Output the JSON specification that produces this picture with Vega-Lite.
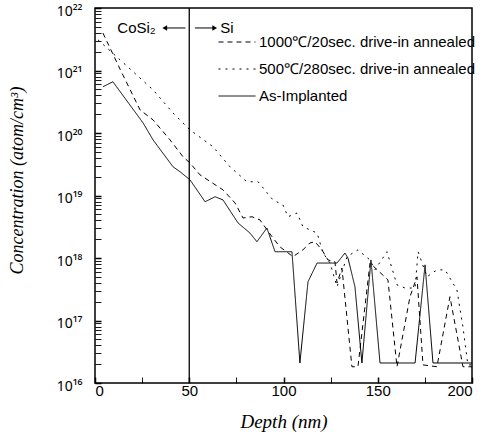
{
  "$schema": "https://vega.github.io/schema/vega-lite/v6.json",
  "width": 377,
  "height": 375,
  "autosize": {"type": "none"},
  "padding": {"left": 95, "top": 8, "right": 14, "bottom": 60},
  "background": "white",
  "config": {
    "view": {"stroke": "black", "strokeWidth": 1.5, "fill": "transparent"},
    "axis": {"domain": false, "ticks": true, "tickColor": "black", "labelColor": "black", "titleColor": "black", "grid": false, "zindex": 2},
    "axisX": {"ticks": true, "tickColor": "black"},
    "axisY": {"ticks": true, "tickColor": "black"},
    "axisQuantitative": {"ticks": true, "tickColor": "black"}
  },
  "datasets": {
    "profiles": [
      {"s": "500℃/280sec. drive-in annealed", "d": 1.6, "c": 3.09e21},
      {"s": "500℃/280sec. drive-in annealed", "d": 13.3, "c": 1.48e21},
      {"s": "500℃/280sec. drive-in annealed", "d": 30.8, "c": 4.9e20},
      {"s": "500℃/280sec. drive-in annealed", "d": 41.4, "c": 2.09e20},
      {"s": "500℃/280sec. drive-in annealed", "d": 50.4, "c": 1.12e20},
      {"s": "500℃/280sec. drive-in annealed", "d": 62.6, "c": 6.03e19},
      {"s": "500℃/280sec. drive-in annealed", "d": 71.6, "c": 2.88e19},
      {"s": "500℃/280sec. drive-in annealed", "d": 80.6, "c": 1.66e19},
      {"s": "500℃/280sec. drive-in annealed", "d": 86.5, "c": 1.66e19},
      {"s": "500℃/280sec. drive-in annealed", "d": 94.4, "c": 8.5e18},
      {"s": "500℃/280sec. drive-in annealed", "d": 99.7, "c": 7.08e18},
      {"s": "500℃/280sec. drive-in annealed", "d": 102.4, "c": 4.57e18},
      {"s": "500℃/280sec. drive-in annealed", "d": 107.2, "c": 5.25e18},
      {"s": "500℃/280sec. drive-in annealed", "d": 110.3, "c": 3.16e18},
      {"s": "500℃/280sec. drive-in annealed", "d": 117.8, "c": 2.51e18},
      {"s": "500℃/280sec. drive-in annealed", "d": 121, "c": 1.2e18},
      {"s": "500℃/280sec. drive-in annealed", "d": 124.7, "c": 8.3e17},
      {"s": "500℃/280sec. drive-in annealed", "d": 128.4, "c": 3.47e17},
      {"s": "500℃/280sec. drive-in annealed", "d": 133.7, "c": 1.05e18},
      {"s": "500℃/280sec. drive-in annealed", "d": 139.5, "c": 1.35e18},
      {"s": "500℃/280sec. drive-in annealed", "d": 145.9, "c": 9.3e17},
      {"s": "500℃/280sec. drive-in annealed", "d": 148.5, "c": 6.46e17},
      {"s": "500℃/280sec. drive-in annealed", "d": 154.9, "c": 1.26e18},
      {"s": "500℃/280sec. drive-in annealed", "d": 160.2, "c": 3.72e17},
      {"s": "500℃/280sec. drive-in annealed", "d": 164.5, "c": 3.31e17},
      {"s": "500℃/280sec. drive-in annealed", "d": 169.8, "c": 3.31e17},
      {"s": "500℃/280sec. drive-in annealed", "d": 171.4, "c": 1.26e18},
      {"s": "500℃/280sec. drive-in annealed", "d": 176.1, "c": 5.0e17},
      {"s": "500℃/280sec. drive-in annealed", "d": 181.4, "c": 6.46e17},
      {"s": "500℃/280sec. drive-in annealed", "d": 185.7, "c": 6.46e17},
      {"s": "500℃/280sec. drive-in annealed", "d": 192, "c": 3.09e17},
      {"s": "500℃/280sec. drive-in annealed", "d": 195.2, "c": 7.9e16},
      {"s": "500℃/280sec. drive-in annealed", "d": 197.8, "c": 1.95e16},
      {"s": "500℃/280sec. drive-in annealed", "d": 200, "c": 1.95e16},
      {"s": "1000℃/20sec. drive-in annealed", "d": 4.2, "c": 3.98e21},
      {"s": "1000℃/20sec. drive-in annealed", "d": 13.3, "c": 1.05e21},
      {"s": "1000℃/20sec. drive-in annealed", "d": 23.9, "c": 2.34e20},
      {"s": "1000℃/20sec. drive-in annealed", "d": 30.8, "c": 1.62e20},
      {"s": "1000℃/20sec. drive-in annealed", "d": 39.8, "c": 7.76e19},
      {"s": "1000℃/20sec. drive-in annealed", "d": 46.7, "c": 4.17e19},
      {"s": "1000℃/20sec. drive-in annealed", "d": 50.4, "c": 3.31e19},
      {"s": "1000℃/20sec. drive-in annealed", "d": 55.7, "c": 2.14e19},
      {"s": "1000℃/20sec. drive-in annealed", "d": 67.9, "c": 1.23e19},
      {"s": "1000℃/20sec. drive-in annealed", "d": 74.3, "c": 7.59e18},
      {"s": "1000℃/20sec. drive-in annealed", "d": 78.5, "c": 4.37e18},
      {"s": "1000℃/20sec. drive-in annealed", "d": 83.3, "c": 4.57e18},
      {"s": "1000℃/20sec. drive-in annealed", "d": 87.5, "c": 4.07e18},
      {"s": "1000℃/20sec. drive-in annealed", "d": 93.9, "c": 2.19e18},
      {"s": "1000℃/20sec. drive-in annealed", "d": 98.1, "c": 1.51e18},
      {"s": "1000℃/20sec. drive-in annealed", "d": 105, "c": 1.05e18},
      {"s": "1000℃/20sec. drive-in annealed", "d": 110.3, "c": 1.35e18},
      {"s": "1000℃/20sec. drive-in annealed", "d": 114, "c": 1.74e18},
      {"s": "1000℃/20sec. drive-in annealed", "d": 116.7, "c": 1.82e18},
      {"s": "1000℃/20sec. drive-in annealed", "d": 120.4, "c": 1.35e18},
      {"s": "1000℃/20sec. drive-in annealed", "d": 123.6, "c": 9.3e17},
      {"s": "1000℃/20sec. drive-in annealed", "d": 127.3, "c": 8.7e17},
      {"s": "1000℃/20sec. drive-in annealed", "d": 128.4, "c": 3.98e17},
      {"s": "1000℃/20sec. drive-in annealed", "d": 131, "c": 6.92e17},
      {"s": "1000℃/20sec. drive-in annealed", "d": 136.3, "c": 1.82e16},
      {"s": "1000℃/20sec. drive-in annealed", "d": 139.5, "c": 1.82e16},
      {"s": "1000℃/20sec. drive-in annealed", "d": 145.9, "c": 8.3e17},
      {"s": "1000℃/20sec. drive-in annealed", "d": 155.4, "c": 4.47e17},
      {"s": "1000℃/20sec. drive-in annealed", "d": 160.2, "c": 1.82e16},
      {"s": "1000℃/20sec. drive-in annealed", "d": 167.1, "c": 2.4e17},
      {"s": "1000℃/20sec. drive-in annealed", "d": 170.8, "c": 5.0e17},
      {"s": "1000℃/20sec. drive-in annealed", "d": 174, "c": 1.95e16},
      {"s": "1000℃/20sec. drive-in annealed", "d": 181.4, "c": 1.82e16},
      {"s": "1000℃/20sec. drive-in annealed", "d": 188.3, "c": 2.4e17},
      {"s": "1000℃/20sec. drive-in annealed", "d": 195.2, "c": 1.82e16},
      {"s": "1000℃/20sec. drive-in annealed", "d": 200, "c": 1.82e16},
      {"s": "As-Implanted", "d": 4.2, "c": 5.5e20},
      {"s": "As-Implanted", "d": 9.5, "c": 6.6e20},
      {"s": "As-Implanted", "d": 25.5, "c": 1.45e20},
      {"s": "As-Implanted", "d": 30.8, "c": 7.76e19},
      {"s": "As-Implanted", "d": 41.4, "c": 2.88e19},
      {"s": "As-Implanted", "d": 45.1, "c": 2.4e19},
      {"s": "As-Implanted", "d": 50.4, "c": 1.78e19},
      {"s": "As-Implanted", "d": 58.4, "c": 7.94e18},
      {"s": "As-Implanted", "d": 63.7, "c": 9.55e18},
      {"s": "As-Implanted", "d": 67.9, "c": 8.5e18},
      {"s": "As-Implanted", "d": 75.9, "c": 3.63e18},
      {"s": "As-Implanted", "d": 82.2, "c": 2.51e18},
      {"s": "As-Implanted", "d": 85.9, "c": 1.82e18},
      {"s": "As-Implanted", "d": 91.2, "c": 3.02e18},
      {"s": "As-Implanted", "d": 95.5, "c": 1.26e18},
      {"s": "As-Implanted", "d": 104.5, "c": 1.26e18},
      {"s": "As-Implanted", "d": 108.7, "c": 2.09e16},
      {"s": "As-Implanted", "d": 113, "c": 4.17e17},
      {"s": "As-Implanted", "d": 117.8, "c": 8.3e17},
      {"s": "As-Implanted", "d": 128.4, "c": 8.3e17},
      {"s": "As-Implanted", "d": 132.6, "c": 1.2e18},
      {"s": "As-Implanted", "d": 134.2, "c": 1.0e18},
      {"s": "As-Implanted", "d": 137.9, "c": 3.47e17},
      {"s": "As-Implanted", "d": 141.6, "c": 2.09e16},
      {"s": "As-Implanted", "d": 146.4, "c": 9.3e17},
      {"s": "As-Implanted", "d": 151.2, "c": 2.09e16},
      {"s": "As-Implanted", "d": 169.8, "c": 2.09e16},
      {"s": "As-Implanted", "d": 175.1, "c": 7.76e17},
      {"s": "As-Implanted", "d": 179.3, "c": 2.09e16},
      {"s": "As-Implanted", "d": 200, "c": 2.09e16}
    ],
    "labels": [
      {"t": "CoSi₂", "d": 22, "c": 4.79e21, "a": "center"},
      {"t": "Si", "d": 70, "c": 4.79e21, "a": "left"}
    ],
    "arrows": [
      {"d1": 37, "d2": 48, "c": 4.79e21},
      {"d1": 53, "d2": 63.5, "c": 4.79e21}
    ],
    "headsLeft": [{"d": 37, "c": 4.79e21}],
    "headsRight": [{"d": 63.5, "c": 4.79e21}],
    "boundary": [{"d": 50}]
  },
  "layer": [
    {
      "data": {"name": "profiles"},
      "mark": {"type": "line", "color": "black", "strokeWidth": 1},
      "encoding": {
        "x": {
          "field": "d", "type": "quantitative",
          "scale": {"domain": [0, 200], "nice": false},
          "axis": {
            "title": "Depth (nm)",
            "titleFont": "Liberation Serif", "titleFontStyle": "italic", "titleFontWeight": "normal", "titleFontSize": 19, "titlePadding": 14,
            "values": [0, 25, 50, 75, 100, 125, 150, 175, 200],
            "labelExpr": "datum.value % 50 === 0 ? datum.label : ''",
            "labelFont": "Liberation Sans", "labelFontSize": 15, "labelPadding": 0,
            "offset": -6,
            "ticks": true, "tickColor": "black", "tickOpacity": 1,
            "tickSize": 6,
            "tickWidth": {"condition": {"test": "datum.value % 50 === 0", "value": 1.5}, "value": 0.9}
          }
        },
        "y": {
          "field": "c", "type": "quantitative",
          "scale": {"type": "log", "domain": [1e16, 1e22], "nice": false},
          "axis": {
            "title": "Concentration (atom/cm³)",
            "titleFont": "Liberation Serif", "titleFontStyle": "italic", "titleFontWeight": "normal", "titleFontSize": 18, "titlePadding": 30, "titleY": 172,
            "values": [1e16,2e16,3e16,4e16,5e16,6e16,7e16,8e16,9e16,1e17,2e17,3e17,4e17,5e17,6e17,7e17,8e17,9e17,1e18,2e18,3e18,4e18,5e18,6e18,7e18,8e18,9e18,1e19,2e19,3e19,4e19,5e19,6e19,7e19,8e19,9e19,1e20,2e20,3e20,4e20,5e20,6e20,7e20,8e20,9e20,1e21,2e21,3e21,4e21,5e21,6e21,7e21,8e21,9e21,1e22],
            "labelExpr": "abs(log(datum.value)/LN10 - round(log(datum.value)/LN10)) < 0.001 ? '10' + ['¹⁶','¹⁷','¹⁸','¹⁹','²⁰','²¹','²²'][round(log(datum.value)/LN10) - 16] : ''",
            "labelFont": "Noto Sans", "labelFontSize": 14, "labelPadding": 13, "labelOffset": 3,
            "offset": -6,
            "ticks": true, "tickColor": "black", "tickOpacity": 1,
            "tickSize": 6,
            "tickWidth": {"condition": {"test": "abs(log(datum.value)/LN10 - round(log(datum.value)/LN10)) < 0.001", "value": 1.5}, "value": 0.9}
          }
        },
        "strokeDash": {
          "field": "s", "type": "nominal",
          "scale": {
            "domain": ["1000℃/20sec. drive-in annealed", "500℃/280sec. drive-in annealed", "As-Implanted"],
            "range": [[5, 4], [2, 5], [1, 0]]
          },
          "legend": {
            "orient": "none", "legendX": 123, "legendY": 15, "title": null,
            "symbolType": "stroke", "symbolSize": 1369, "symbolStrokeWidth": 1, "symbolStrokeColor": "black",
            "labelFont": "Liberation Sans", "labelFontSize": 15, "labelColor": "black", "labelOffset": 3, "labelLimit": 0,
            "rowPadding": -3.5
          }
        }
      }
    },
    {
      "data": {"name": "boundary"},
      "mark": {"type": "rule", "color": "black", "strokeWidth": 1.3},
      "encoding": {"x": {"field": "d", "type": "quantitative"}}
    },
    {
      "data": {"name": "arrows"},
      "mark": {"type": "rule", "color": "black", "strokeWidth": 1},
      "encoding": {
        "x": {"field": "d1", "type": "quantitative"},
        "x2": {"field": "d2"},
        "y": {"field": "c", "type": "quantitative"}
      }
    },
    {
      "data": {"name": "headsLeft"},
      "mark": {"type": "point", "shape": "triangle-left", "filled": true, "color": "black", "size": 30, "opacity": 1},
      "encoding": {"x": {"field": "d", "type": "quantitative"}, "y": {"field": "c", "type": "quantitative"}}
    },
    {
      "data": {"name": "headsRight"},
      "mark": {"type": "point", "shape": "triangle-right", "filled": true, "color": "black", "size": 30, "opacity": 1},
      "encoding": {"x": {"field": "d", "type": "quantitative"}, "y": {"field": "c", "type": "quantitative"}}
    },
    {
      "data": {"name": "labels"},
      "mark": {"type": "text", "font": "Liberation Sans", "fontSize": 15, "color": "black", "baseline": "middle"},
      "encoding": {
        "x": {"field": "d", "type": "quantitative"},
        "y": {"field": "c", "type": "quantitative"},
        "text": {"field": "t"},
        "align": {"field": "a", "type": "nominal", "scale": null}
      }
    }
  ]
}
